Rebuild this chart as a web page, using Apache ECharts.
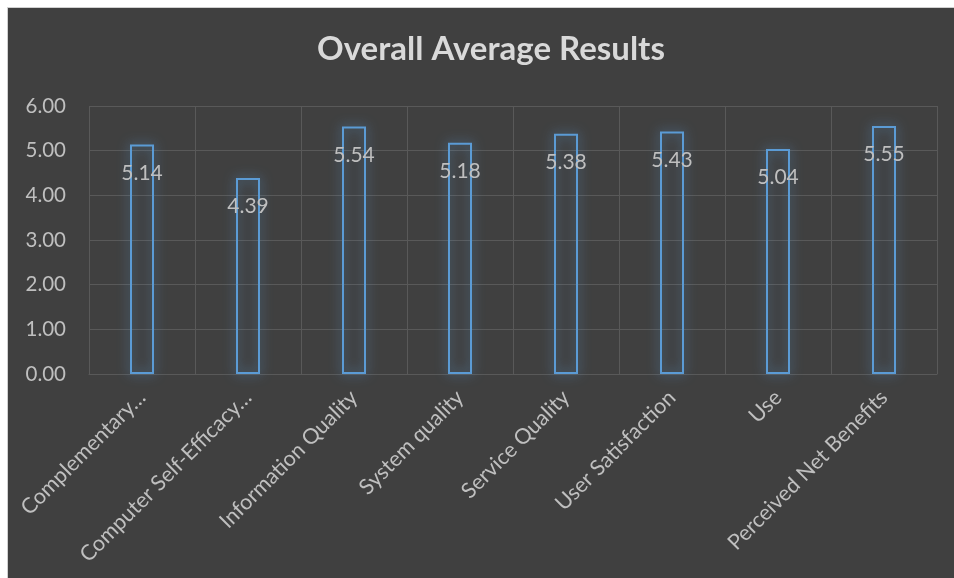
<!DOCTYPE html>
<html>
<head>
<meta charset="utf-8">
<script src="https://cdn.jsdelivr.net/npm/echarts@6/dist/echarts.min.js"></script>
<style>
html,body{margin:0;padding:0;background:#ffffff;}
#wrap{position:absolute;left:0;top:0;width:954px;height:578px;background:#ffffff;}
#chart{position:absolute;left:7px;top:7px;width:947px;height:571px;border-left:1px solid #d0d0d0;border-top:1px solid #d0d0d0;box-sizing:border-box;}
</style>
</head>
<body>
<div id="wrap"><div id="chart"></div></div>
<script>
const titleText = 'Overall Average Results';
const categories = ['Complementary…', 'Computer Self-Efficacy…', 'Information Quality', 'System quality', 'Service Quality', 'User Satisfaction', 'Use', 'Perceived Net Benefits'];
const values = [5.14, 4.39, 5.54, 5.18, 5.38, 5.43, 5.04, 5.55];
const yMin = 0, yMax = 6, yStep = 1;

const chart = echarts.init(document.getElementById('chart'), null, {renderer: 'canvas'});
const font = 'Lato, "Open Sans", sans-serif';
chart.setOption({
  backgroundColor: '#404040',
  animation: false,
  title: {
    text: titleText,
    left: 304,
    top: 20,
    textStyle: {color: '#d9d9d9', fontSize: 33, fontWeight: 'bold', fontFamily: font}
  },
  grid: {left: 81, top: 98, right: 17, bottom: 204, containLabel: false},
  xAxis: {
    type: 'category',
    data: categories,
    axisTick: {show: false},
    axisLine: {show: true, lineStyle: {color: '#595959', width: 1}},
    splitLine: {show: true, interval: 0, lineStyle: {color: '#595959', width: 1}},
    axisLabel: {
      interval: 0, rotate: 45, margin: 20,
      color: '#bfbfbf', fontSize: 21.5, fontFamily: font
    }
  },
  yAxis: {
    type: 'value',
    min: yMin, max: yMax, interval: yStep,
    axisLine: {show: false},
    axisTick: {show: false},
    splitLine: {show: true, lineStyle: {color: '#595959', width: 1}},
    axisLabel: {
      margin: 23,
      color: '#bfbfbf', fontSize: 20.5, fontFamily: font,
      formatter: v => v.toFixed(2)
    }
  },
  series: [{
    type: 'bar',
    data: values,
    barWidth: 24,
    itemStyle: {
      color: 'rgba(0,0,0,0)',
      borderColor: '#5b9bd5',
      borderWidth: 2,
      shadowColor: 'rgba(91,155,213,0.85)',
      shadowBlur: 12
    },
    label: {
      show: true,
      position: 'insideTop',
      distance: 18,
      color: '#bfbfbf',
      fontSize: 21,
      fontFamily: font,
      formatter: p => p.value.toFixed(2)
    }
  }]
});
</script>
</body>
</html>
